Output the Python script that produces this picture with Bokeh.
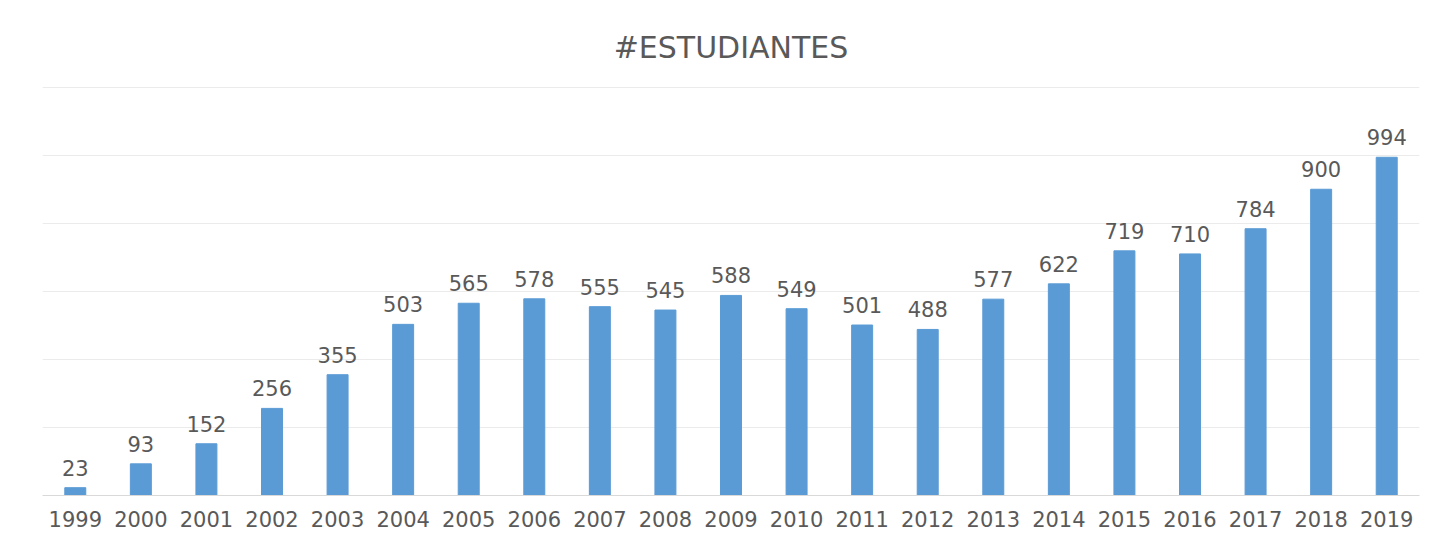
from bokeh.plotting import figure
from bokeh.models import ColumnDataSource, Range1d, FixedTicker
from bokeh.core.properties import value
from bokeh.embed import file_html
from bokeh.resources import INLINE

years = ["1999", "2000", "2001", "2002", "2003", "2004", "2005", "2006", "2007", "2008", "2009",
         "2010", "2011", "2012", "2013", "2014", "2015", "2016", "2017", "2018", "2019"]
students = [23, 93, 152, 256, 355, 503, 565, 578, 555, 545, 588,
            549, 501, 488, 577, 622, 719, 710, 784, 900, 994]
y_ticks = [0, 200, 400, 600, 800, 1000, 1200]

src = ColumnDataSource(dict(year=years, n=students, lab=[str(v) for v in students]))

FONT = "DejaVu Sans"

p = figure(x_range=years, y_range=Range1d(0, 1202), width=1432, height=541,
           output_backend="svg", toolbar_location=None,
           min_border_left=42, min_border_right=13, min_border_top=86, min_border_bottom=46)

p.title.text = "#ESTUDIANTES"
p.title.align = "center"
p.title.text_font = FONT
p.title.text_font_size = "30px"
p.title.text_font_style = "normal"
p.title.text_color = "#595959"
p.title.standoff = 44

p.vbar(x="year", top="n", width=0.32, source=src, color="#5b9bd5")
p.text(x="year", y="n", text="lab", source=src, y_offset=-20,
       text_align="center", text_baseline="middle",
       text_font=value(FONT), text_font_size="21px", text_color="#595959")

p.yaxis.visible = False
p.yaxis.ticker = FixedTicker(ticks=y_ticks)
p.ygrid.ticker = FixedTicker(ticks=y_ticks)
p.ygrid.grid_line_color = "#ebebeb"
p.xgrid.grid_line_color = None

p.xaxis.axis_line_color = "#d9d9d9"
p.xaxis.major_tick_line_color = None
p.xaxis.minor_tick_line_color = None
p.xaxis.major_tick_out = 0
p.xaxis.major_tick_in = 0
p.xaxis.major_label_text_font = FONT
p.xaxis.major_label_text_font_size = "21px"
p.xaxis.major_label_text_color = "#595959"
p.xaxis.major_label_standoff = 15

p.outline_line_color = None
p.border_fill_color = "white"
p.background_fill_color = "white"

open("out.html", "w").write(file_html(p, INLINE))
